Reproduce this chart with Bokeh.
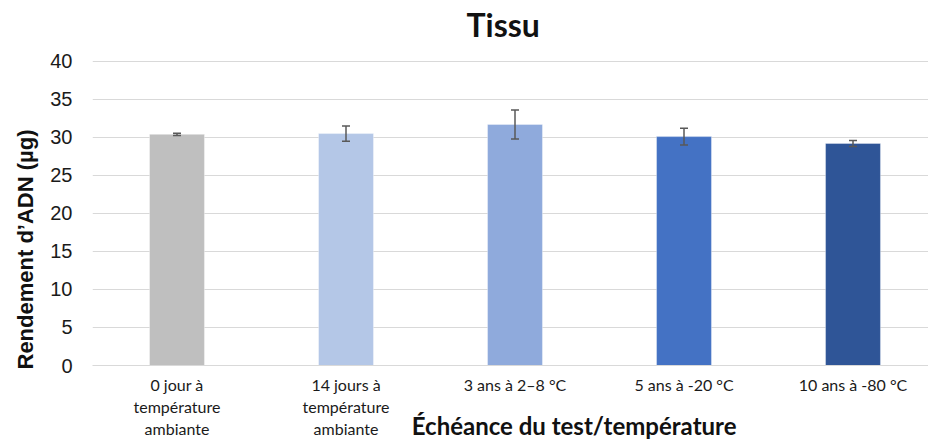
import math
from bokeh.plotting import figure
from bokeh.models import (ColumnDataSource, Range1d, FixedTicker, Whisker, TeeHead,
                          Title, LinearAxis, Label)
from bokeh.embed import file_html
from bokeh.resources import INLINE

# ---- data ----
categories = [
    "0 jour à\ntempérature\nambiante",
    "14 jours à\ntempérature\nambiante",
    "3 ans à 2–8 °C",
    "5 ans à -20 °C",
    "10 ans à -80 °C",
]
yields = [30.4, 30.5, 31.7, 30.1, 29.2]
errors = [0.15, 1.0, 1.9, 1.1, 0.4]
colors = ["#BFBFBF", "#B4C7E7", "#8FAADC", "#4472C4", "#2F5597"]
y_ticks = [0, 5, 10, 15, 20, 25, 30, 35, 40]
title_text = "Tissu"
y_title = "Rendement d’ADN (µg)"
x_title = "Échéance du test/température"

xs = list(range(len(categories)))
src = ColumnDataSource(dict(
    x=xs,
    top=yields,
    upper=[v + e for v, e in zip(yields, errors)],
    lower=[v - e for v, e in zip(yields, errors)],
    color=colors,
))

W, H = 928, 442
left, right, top, bottom = 92, 0, 0, 76
frame_w = W - left - right
slot = 169.0
y_top = 48          # headroom above the 40 gridline holds the chart title
x_title_pos = 2.35  # horizontal position of the axis title, in category units
title_pos = (1.93, 44.9)

p = figure(
    width=W, height=H, output_backend="svg", toolbar_location=None,
    x_range=Range1d(-0.5, -0.5 + frame_w / slot), y_range=Range1d(0, y_top),
    min_border_left=left, min_border_right=right, min_border_top=top, min_border_bottom=bottom,
)
p.title.visible = False
p.outline_line_color = None
p.background_fill_color = "white"
p.border_fill_color = "white"

p.vbar(x="x", top="top", width=0.325, fill_color="color", line_color="white",
       line_alpha=0.35, line_width=1, source=src)

whisk = Whisker(source=src, base="x", upper="upper", lower="lower",
                line_color="#595959", line_width=1.5,
                upper_head=TeeHead(size=8, line_color="#595959", line_width=1.5),
                lower_head=TeeHead(size=8, line_color="#595959", line_width=1.5),
                level="overlay")
p.add_layout(whisk)

# chart title
p.add_layout(Label(x=title_pos[0], y=title_pos[1], text=title_text,
                   text_font="Lato", text_font_style="bold", text_font_size="32px",
                   text_align="center", text_baseline="alphabetic", text_color="#111111"))

# grid
p.xgrid.visible = False
p.ygrid.ticker = FixedTicker(ticks=y_ticks)
p.ygrid.grid_line_color = "#D9D9D9"
p.ygrid.grid_line_width = 1

# y axis
p.yaxis.ticker = FixedTicker(ticks=y_ticks)
p.yaxis.axis_line_color = None
p.yaxis.major_tick_line_color = None
p.yaxis.minor_tick_line_color = None
p.yaxis.major_tick_out = 0
p.yaxis.major_tick_in = 0
p.yaxis.major_label_standoff = 20
p.yaxis.major_label_text_font = "Liberation Sans"
p.yaxis.major_label_text_font_size = "20px"
p.yaxis.major_label_text_color = "#1a1a1a"

# y title
p.add_layout(Title(text=y_title, align="left", offset=-4, standoff=20,
                   text_font="Liberation Sans", text_font_style="bold",
                   text_font_size="22px", text_color="#111111"), "left")

# x axis (categories)
p.xaxis.ticker = FixedTicker(ticks=xs)
p.xaxis.major_label_overrides = {i: c for i, c in zip(xs, categories)}
p.xaxis.axis_line_color = "#D9D9D9"
p.xaxis.major_tick_line_color = None
p.xaxis.minor_tick_line_color = None
p.xaxis.major_tick_out = 0
p.xaxis.major_tick_in = 0
p.xaxis.major_label_standoff = 9
p.xaxis.major_label_text_font = "Lato"
p.xaxis.major_label_text_font_size = "16px"
p.xaxis.major_label_text_color = "#1a1a1a"
p.xaxis.major_label_text_line_height = 1.17

# x title, carried by a second axis with a single labelled position
title_axis = LinearAxis(
    ticker=FixedTicker(ticks=[x_title_pos]),
    major_label_overrides={x_title_pos: x_title},
    axis_line_color=None, major_tick_line_color=None, minor_tick_line_color=None,
    major_tick_out=0, major_tick_in=0, minor_tick_out=0, minor_tick_in=0,
    major_label_standoff=-30,
    major_label_text_font="Lato", major_label_text_font_style="bold",
    major_label_text_font_size="24px", major_label_text_color="#111111",
)
p.add_layout(title_axis, "below")

open("out.html", "w").write(file_html(p, INLINE))
